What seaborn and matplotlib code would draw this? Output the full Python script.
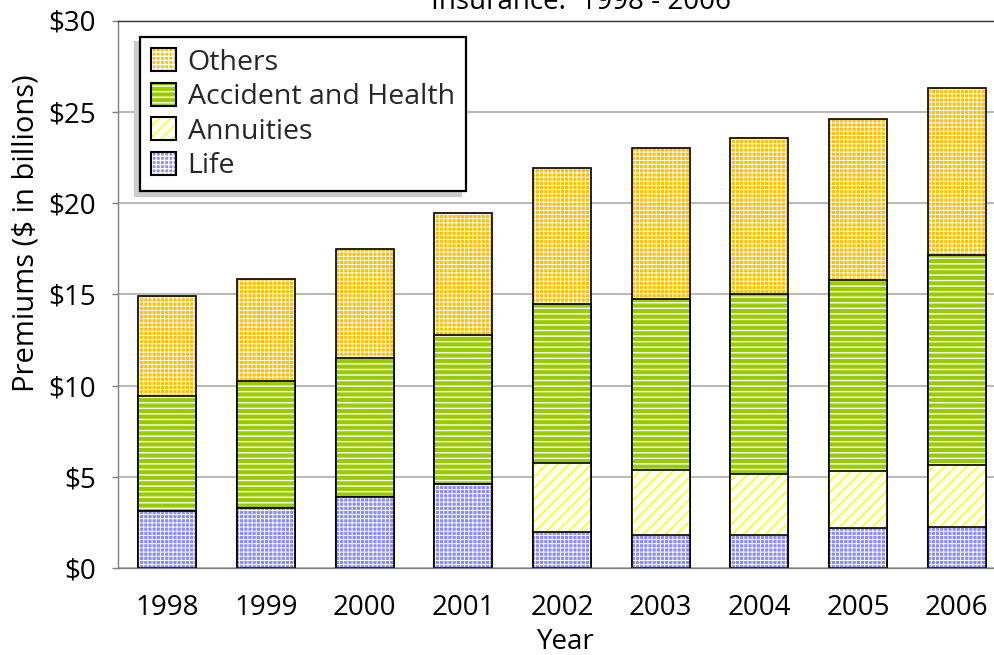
import numpy as np
import pandas as pd
import matplotlib
matplotlib.use("Agg")
import matplotlib.pyplot as plt
import seaborn as sns
from matplotlib.patches import Patch
from matplotlib.legend_handler import HandlerTuple

# ---- data (billions of dollars) ----
years = ["1998", "1999", "2000", "2001", "2002", "2003", "2004", "2005", "2006"]
life = [3.14, 3.30, 3.90, 4.63, 1.99, 1.82, 1.82, 2.17, 2.26]
annuities = [0.0, 0.0, 0.0, 0.0, 3.77, 3.54, 3.33, 3.16, 3.38]
accident_health = [6.29, 6.94, 7.61, 8.16, 8.73, 9.40, 9.89, 10.47, 11.49]
others = [5.46, 5.61, 5.95, 6.64, 7.44, 8.23, 8.53, 8.83, 9.18]
series_names = ["Others", "Accident and Health", "Annuities", "Life"]
y_ticks = [0, 5, 10, 15, 20, 25, 30]
y_tick_labels = ["$0", "$5", "$10", "$15", "$20", "$25", "$30"]

sns.set_theme(style="white")
plt.rcParams["font.family"] = ["Open Sans", "DejaVu Sans"]

df = pd.DataFrame({"Year": years, "Life": life, "Annuities": annuities,
                   "Accident and Health": accident_health, "Others": others})
df["c_life"] = df["Life"]
df["c_ann"] = df["c_life"] + df["Annuities"]
df["c_ah"] = df["c_ann"] + df["Accident and Health"]
df["c_oth"] = df["c_ah"] + df["Others"]

# style: (face, hatch colour, hatch, hatch linewidth)
styles = {
    "Others": ("#FFC000", "white", "++++", 0.65),
    "Accident and Health": ("#99CC00", "white", "---", 1.0),
    "Annuities": ("white", "#FFFF00", "///", 1.1),
    "Life": ("#8C8CFF", "white", "++++", 0.65),
}
cum_cols = {"Others": "c_oth", "Accident and Health": "c_ah", "Annuities": "c_ann", "Life": "c_life"}

fig = plt.figure(figsize=(9.95, 6.55), dpi=100)
ax = fig.add_axes([118 / 995, 87 / 655, 888 / 995, 547.5 / 655])

bw = 0.585
for name in series_names:
    face, hcol, hatch, hlw = styles[name]
    with plt.rc_context({"hatch.linewidth": hlw}):
        sns.barplot(data=df, x="Year", y=cum_cols[name], order=years, color=face,
                    saturation=1, width=bw, errorbar=None, ax=ax)
        for p in ax.containers[-1]:
            p.set_facecolor(face)
            p.set_hatch(hatch)
            p.set_edgecolor(hcol)
            p.set_linewidth(0)
    sns.barplot(data=df, x="Year", y=cum_cols[name], order=years, color=face,
                saturation=1, width=bw, errorbar=None, ax=ax)
    for p in ax.containers[-1]:
        p.set_fill(False)
        p.set_edgecolor("black")
        p.set_linewidth(1.2)

ax.set_xlim(-0.5, 8.5)
ax.set_ylim(0, 30)
ax.set_yticks(y_ticks)
ax.set_yticklabels(y_tick_labels)
ax.set_axisbelow(True)
ax.yaxis.grid(True, color="#A6A6A6", linewidth=1.1)
ax.xaxis.grid(False)

ax.set_xticks(range(len(years)))
ax.set_xticklabels(years)
ax.set_xticks(np.arange(-0.5, len(years), 1), minor=True)
ax.tick_params(axis="x", which="major", length=0, pad=19, labelsize=20, colors="black")
ax.tick_params(axis="x", which="minor", length=7, width=1, color="#999999", direction="out")
ax.tick_params(axis="y", which="major", length=4, width=1, color="#808080", direction="out",
               pad=12, labelsize=20, labelcolor="black", left=True)

for s in ["left", "bottom"]:
    ax.spines[s].set_color("#808080")
    ax.spines[s].set_linewidth(1.0)
ax.spines["top"].set_color("#333333")
ax.spines["top"].set_linewidth(1.0)
ax.spines["right"].set_visible(False)

ax.set_xlabel("Year", fontsize=20, color="black")
ax.xaxis.set_label_coords((566 - 118) / 888, -(642 - 568) / 547.5)
ax.xaxis.label.set_va("center")
ax.set_ylabel("Premiums ($ in billions)", fontsize=21, color="black")
ax.yaxis.set_label_coords(-(118 - 26) / 888, (568 - 233) / 547.5)
ax.yaxis.label.set_va("center")

fig.text(581 / 995, 1 - 9 / 655, "Direct Premiums Written\nInsurance:  1998 - 2006",
         ha="center", va="baseline", fontsize=20, color="black", linespacing=1.1)

handles = []
for name in series_names:
    face, hcol, hatch, hlw = styles[name]
    with plt.rc_context({"hatch.linewidth": hlw}):
        h1 = Patch(facecolor=face, edgecolor=hcol, hatch=hatch, linewidth=0)
    h2 = Patch(facecolor="none", edgecolor="black", linewidth=1.5)
    handles.append((h1, h2))

leg = ax.legend(handles, series_names, handler_map={tuple: HandlerTuple(ndivide=1)},
                loc="upper left", bbox_to_anchor=(22 / 888, (568 - 37) / 547.5),
                borderaxespad=0, fontsize=20.5, frameon=True, fancybox=False,
                framealpha=1, edgecolor="black", handlelength=0.85, handleheight=0.85,
                handletextpad=0.42, labelspacing=0.22, borderpad=0.4,
                shadow={"ox": -3.6, "oy": -3.6, "color": "#cccccc", "alpha": 1})
leg.get_frame().set_linewidth(1.6)

fig.savefig("out.png", dpi=100)
